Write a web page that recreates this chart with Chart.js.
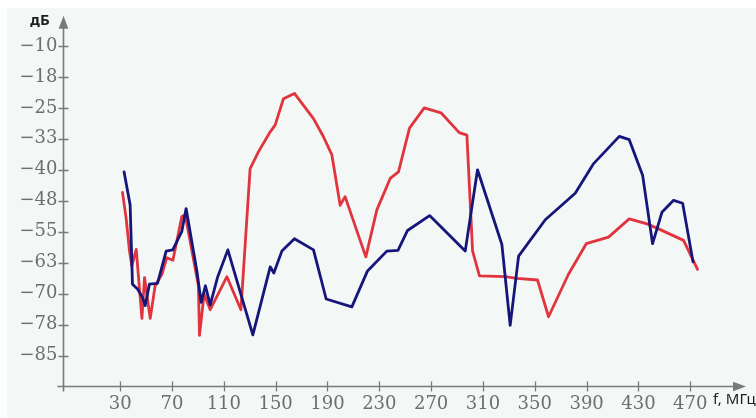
<!DOCTYPE html>
<html>
<head>
<meta charset="utf-8">
<script src="https://cdn.jsdelivr.net/npm/chart.js@4"></script>
<style>
  html, body { margin: 0; padding: 0; background: #ffffff; }
  #wrap { width: 756px; height: 418px; }
</style>
</head>
<body>
<div id="wrap"><canvas id="chart" width="756" height="418"></canvas></div>
<script>
// Frequency response, two measurement runs (f in MHz, level in dB)
const blueFreq = [33, 37.7, 39.5, 43.4, 47.2, 49.3, 52.6, 58.8, 65.5, 70.6, 77.6, 80.9, 89.2, 92.5, 95.8, 99.5, 105.1, 113.1, 132.4, 145.8, 148.6, 154.8, 164.5, 179.2, 189, 208.8, 220.9, 235.8, 244.4, 251.8, 268.8, 296.3, 305.8, 324.6, 331, 337.5, 358.1, 381.2, 395.4, 415.2, 422.9, 433.2, 440.9, 448.1, 457.1, 464.1, 472.1];
const blueLevel = [-40.5, -48.5, -67.7, -68.9, -70.9, -72.9, -67.7, -67.5, -59.7, -59.4, -54.9, -49.4, -64.5, -72.1, -68.1, -72.7, -66.1, -59.4, -80, -63.5, -65, -59.7, -56.7, -59.4, -71.3, -73.2, -64.5, -59.7, -59.5, -54.7, -51.1, -59.7, -40, -58.1, -77.7, -60.9, -52.1, -45.7, -38.5, -31.9, -32.7, -41.3, -57.9, -50.3, -47.4, -48.1, -62.3];

const redFreq = [31.8, 34.6, 37.2, 39, 42.4, 46.8, 48.8, 53.2, 57, 62.2, 66, 70.7, 77.6, 80.2, 90.4, 91.2, 94.8, 99.5, 112.4, 123.2, 130.3, 136.8, 145.8, 149.6, 156, 164.5, 179.2, 186.9, 193.4, 199.8, 203.6, 219.6, 228.1, 238.4, 244.8, 253.3, 264.7, 277.6, 291.7, 297.6, 302, 307.3, 327.2, 336.2, 352.1, 360.6, 376, 389.7, 406.9, 422.9, 436.6, 446.8, 464.8, 475.6];
const redLevel = [-45.5, -51.7, -59.7, -63.3, -59.3, -76, -66.1, -76, -68.1, -65.3, -61.3, -61.9, -51.3, -50.9, -68.1, -80.1, -70.1, -73.9, -65.9, -73.9, -39.7, -35.6, -30.8, -29.2, -22.8, -21.5, -27.6, -32, -36.4, -48.6, -46.5, -61.1, -49.7, -42.1, -40.5, -29.9, -25, -26.2, -31, -31.6, -59.7, -65.7, -65.9, -66.3, -66.7, -75.6, -65.3, -57.9, -56.3, -51.9, -53.1, -54.5, -57.1, -64.1];

// Axis ticks and their printed labels
const xTickValues = [30, 70, 110, 150, 190, 230, 270, 310, 350, 390, 430, 470];
const yTickValues = [-10, -17.5, -25, -32.5, -40, -47.5, -55, -62.5, -70, -77.5, -85];
const yTickLabels = ['\u221210', '\u221218', '\u221225', '\u221233', '\u221240', '\u221248', '\u221255', '\u221263', '\u221270', '\u221278', '\u221285'];

const yAxisTitle = 'дБ';
const xAxisTitle = 'f, МГц';

const toPoints = (xs, ys) => xs.map((x, i) => ({ x: x, y: ys[i] }));

const AXIS_COLOR = '#7a7a7a';

// Paper background, axis lines with arrowheads, crossing tick marks and titles
const axesPlugin = {
  id: 'arrowAxes',
  beforeDraw(chart) {
    const ctx = chart.ctx;
    ctx.save();
    ctx.fillStyle = '#ffffff';
    ctx.fillRect(0, 0, chart.width, chart.height);
    ctx.fillStyle = '#f3f7f5';
    ctx.fillRect(7, 8, chart.width - 7, chart.height - 8);
    ctx.restore();
  },
  beforeDatasetsDraw(chart) {
    const ctx = chart.ctx;
    const area = chart.chartArea;
    const xs = chart.scales.x, ys = chart.scales.y;
    const ox = Math.round(area.left) + 0.5;
    const oy = Math.round(area.bottom) + 0.5;
    ctx.save();
    ctx.strokeStyle = AXIS_COLOR;
    ctx.fillStyle = AXIS_COLOR;
    ctx.lineWidth = 1.6;
    // vertical axis
    ctx.beginPath();
    ctx.moveTo(ox, oy + 5);
    ctx.lineTo(ox, area.top + 10);
    ctx.stroke();
    ctx.beginPath();
    ctx.moveTo(ox, area.top);
    ctx.lineTo(ox - 4.8, area.top + 13);
    ctx.lineTo(ox + 4.8, area.top + 13);
    ctx.closePath();
    ctx.fill();
    // horizontal axis
    ctx.beginPath();
    ctx.moveTo(ox - 6, oy);
    ctx.lineTo(area.right - 10, oy);
    ctx.stroke();
    ctx.beginPath();
    ctx.moveTo(area.right, oy);
    ctx.lineTo(area.right - 13, oy - 4.8);
    ctx.lineTo(area.right - 13, oy + 4.8);
    ctx.closePath();
    ctx.fill();
    // tick marks crossing the axes
    ctx.lineWidth = 1.3;
    ctx.beginPath();
    yTickValues.forEach(v => {
      const py = Math.round(ys.getPixelForValue(v)) + 0.5;
      ctx.moveTo(ox - 5, py);
      ctx.lineTo(ox + 5, py);
    });
    xTickValues.forEach(v => {
      const px = Math.round(xs.getPixelForValue(v)) + 0.5;
      ctx.moveTo(px, oy - 5);
      ctx.lineTo(px, oy + 5);
    });
    ctx.stroke();
    // axis titles
    ctx.fillStyle = '#1e1e1e';
    ctx.textBaseline = 'middle';
    ctx.textAlign = 'center';
    ctx.font = 'bold 15px "Noto Sans"';
    ctx.fillText(yAxisTitle, 40, 21);
    ctx.textAlign = 'left';
    ctx.font = '15px "Noto Sans"';
    ctx.fillText(xAxisTitle, 713, 400);
    ctx.restore();
  }
};

new Chart(document.getElementById('chart'), {
  type: 'line',
  data: {
    datasets: [
      {
        data: toPoints(blueFreq, blueLevel),
        borderColor: '#16167a',
        borderWidth: 2.8
      },
      {
        data: toPoints(redFreq, redLevel),
        borderColor: '#e0343f',
        borderWidth: 2.8
      }
    ]
  },
  options: {
    responsive: false,
    animation: false,
    layout: { padding: { top: 13, right: 10, left: 0, bottom: 0 } },
    elements: {
      point: { radius: 0, hoverRadius: 0 },
      line: { tension: 0, borderCapStyle: 'round', borderJoinStyle: 'round' }
    },
    plugins: {
      legend: { display: false },
      tooltip: { enabled: false }
    },
    scales: {
      x: {
        type: 'linear',
        min: -14.5,
        max: 513,
        afterFit(scale) { scale.height = 32.3; },
        afterBuildTicks(scale) { scale.ticks = xTickValues.map(v => ({ value: v })); },
        grid: { display: false, drawTicks: false },
        border: { display: false },
        ticks: {
          autoSkip: false,
          maxRotation: 0,
          padding: 8,
          color: '#6e6e6e',
          font: { family: '"DejaVu Serif"', size: 18 },
          callback: (v) => String(v)
        }
      },
      y: {
        type: 'linear',
        min: -92.3,
        max: -2.7,
        afterFit(scale) { scale.width = 62.5; },
        afterBuildTicks(scale) { scale.ticks = yTickValues.map(v => ({ value: v })); },
        grid: { display: false, drawTicks: false },
        border: { display: false },
        ticks: {
          autoSkip: false,
          padding: 5,
          color: '#6e6e6e',
          font: { family: '"DejaVu Serif"', size: 18 },
          callback: (v) => {
            const i = yTickValues.indexOf(v);
            return i >= 0 ? yTickLabels[i] : '';
          }
        }
      }
    }
  },
  plugins: [axesPlugin]
});
</script>
</body>
</html>
